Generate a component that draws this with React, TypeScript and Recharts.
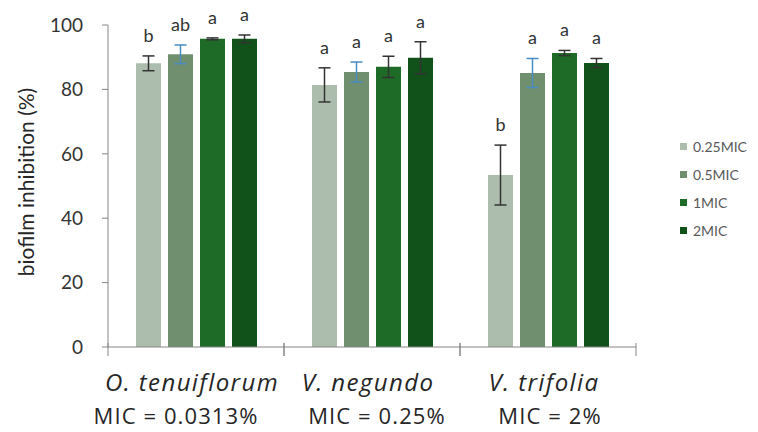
import React from "react";
import { BarChart, Bar, XAxis, YAxis, ErrorBar, LabelList } from "recharts";

const species = ["O. tenuiflorum", "V. negundo", "V. trifolia"];
const micLabels = ["MIC = 0.0313%", "MIC = 0.25%", "MIC = 2%"];
const seriesNames = ["0.25MIC", "0.5MIC", "1MIC", "2MIC"];

// mean inhibition (%) per species
const mic025 = [88.1, 81.4, 53.4];
const mic05 = [90.9, 85.4, 85.1];
const mic1 = [95.7, 87.0, 91.3];
const mic2 = [95.7, 89.8, 88.2];

// error bars (±)
const mic025Err = [2.3, 5.3, 9.3];
const mic05Err = [2.9, 3.1, 4.5];
const mic1Err = [0.3, 3.3, 0.8];
const mic2Err = [1.2, 5.0, 1.4];

// significance letters
const mic025Sig = ["b", "a", "b"];
const mic05Sig = ["ab", "a", "a"];
const mic1Sig = ["a", "a", "a"];
const mic2Sig = ["a", "a", "a"];

const yTicks = [0, 20, 40, 60, 80, 100];

const COLORS = ["#adbdad", "#6f8f6f", "#1d6b27", "#11521a"];
const ERR_COLORS = ["#333333", "#4a8cc2", "#333333", "#333333"];
const AXIS = "#868686";
const FONT = "Lato, 'Open Sans', sans-serif";
const LABEL_FONT = "'Open Sans', Lato, sans-serif";

const values = [mic025, mic05, mic1, mic2];
const errors = [mic025Err, mic05Err, mic1Err, mic2Err];
const letters = [mic025Sig, mic05Sig, mic1Sig, mic2Sig];

const data = species.map((name, i) => {
  const row: any = { name };
  values.forEach((v, s) => {
    row[`s${s}`] = v[i];
    row[`e${s}`] = errors[s][i];
  });
  return row;
});

function sigLabel(s: number) {
  return (props: any) => {
    const { x, y, width, height, index } = props;
    const pxPerUnit = Number(height) / values[s][index];
    const top = Number(y) - errors[s][index] * pxPerUnit;
    return (
      <text
        x={Number(x) + Number(width) / 2}
        y={top - 14}
        textAnchor="middle"
        fontSize={18}
        fill="#333"
        fontFamily={FONT}
      >
        {letters[s][index]}
      </text>
    );
  };
}

const CategoryTick = (props: any) => {
  const { x, y, payload, index } = props;
  const half = payload.offset ?? 88;
  const micShift = index === 0 ? -20 : index === 1 ? 5 : 2;
  return (
    <g>
      <line x1={x - half} x2={x - half} y1={y - 4} y2={y + 9} stroke={AXIS} />
      <line x1={x + half} x2={x + half} y1={y - 4} y2={y + 9} stroke={AXIS} />
      <text
        x={x - 4}
        y={y + 44}
        textAnchor="middle"
        fontStyle="italic"
        fontSize={24}
        letterSpacing={1.4}
        fill="#262626"
        fontFamily={LABEL_FONT}
      >
        {payload.value}
      </text>
      <text
        x={x + micShift}
        y={y + 77}
        textAnchor="middle"
        fontSize={22}
        letterSpacing={1.1}
        fill="#262626"
        fontFamily={LABEL_FONT}
      >
        {micLabels[index]}
      </text>
    </g>
  );
};

const YLabel = (props: any) => {
  const { viewBox } = props;
  const cx = viewBox.x + 17;
  const cy = viewBox.y + viewBox.height / 2 - 4;
  return (
    <text
      x={cx}
      y={cy}
      transform={`rotate(-90, ${cx}, ${cy})`}
      textAnchor="middle"
      dominantBaseline="central"
      fontSize={21}
      fill="#262626"
      fontFamily={FONT}
    >
      biofilm inhibition (%)
    </text>
  );
};

export default function App() {
  return (
    <div style={{ position: "absolute", left: 0, top: 0, width: 758, height: 432, background: "#fff" }}>
      <BarChart
        width={758}
        height={432}
        data={data}
        margin={{ top: 25, right: 122, bottom: 0, left: 8 }}
        barCategoryGap={28}
        barGap={7}
        style={{ fontFamily: FONT }}
      >
        <XAxis
          dataKey="name"
          height={85}
          stroke={AXIS}
          tickLine={false}
          tickSize={0}
          tickMargin={0}
          interval={0}
          tick={<CategoryTick />}
        />
        <YAxis
          width={100}
          domain={[0, 100]}
          ticks={yTicks}
          interval={0}
          stroke={AXIS}
          tickSize={6}
          tickMargin={19}
          tick={{ fontSize: 19, fill: "#333", fontFamily: FONT }}
          label={<YLabel />}
        />
        {seriesNames.map((n, s) => (
          <Bar key={n} dataKey={`s${s}`} name={n} fill={COLORS[s]} isAnimationActive={false}>
            <ErrorBar dataKey={`e${s}`} width={6} stroke={ERR_COLORS[s]} strokeWidth={1.5} direction="y" />
            <LabelList dataKey={`s${s}`} content={sigLabel(s)} />
          </Bar>
        ))}
      </BarChart>
      <div style={{ position: "absolute", left: 680, top: 132, fontFamily: FONT }}>
        {seriesNames.map((n, s) => (
          <div key={n} style={{ display: "flex", alignItems: "center", height: 28, fontSize: 14, color: "#595959" }}>
            <span style={{ width: 7, height: 7, background: COLORS[s], marginRight: 6, display: "inline-block" }} />
            {n}
          </div>
        ))}
      </div>
    </div>
  );
}
